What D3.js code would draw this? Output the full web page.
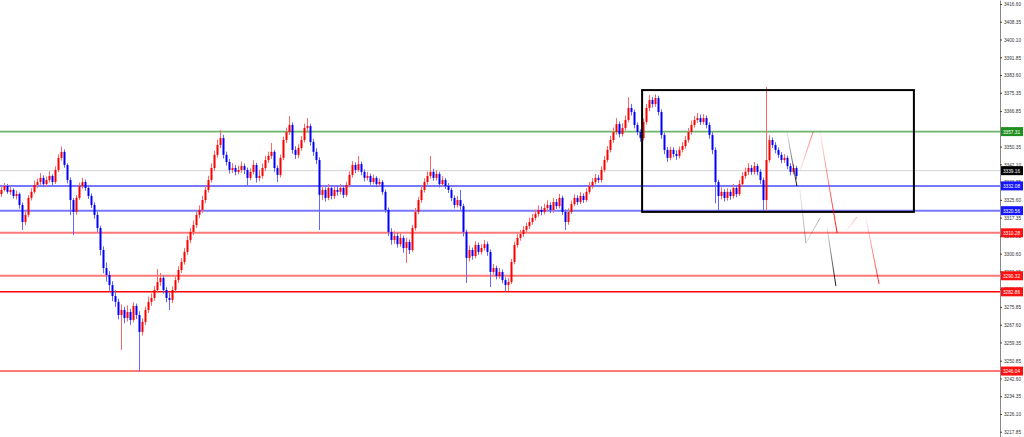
<!DOCTYPE html>
<html><head><meta charset="utf-8">
<script src="https://cdn.jsdelivr.net/npm/d3@7/dist/d3.min.js"></script>
<style>html,body{margin:0;padding:0;background:#fff;overflow:hidden}svg{display:block}</style>
</head><body>
<svg id="chart" width="1024" height="437"></svg>
<script>
// ---------------- DATA ----------------
const opens = [
3328.3,3330.2,3332.0,3329.3,3330.2,3327.4,3328.3,3323.2,3315.3,3318.6,
3326.5,3329.3,3332.5,3333.9,3335.8,3332.9,3334.8,3336.7,3333.9,3339.5,
3345.1,3347.9,3341.8,3334.8,3325.5,3320.0,3326.5,3332.0,3333.9,3331.1,
3327.4,3323.2,3318.6,3312.5,3302.3,3293.9,3290.7,3286.0,3280.9,3278.2,
3272.1,3274.4,3270.7,3273.5,3269.8,3276.3,3272.1,3264.2,3268.9,3274.4,
3278.2,3280.0,3283.7,3287.4,3289.3,3283.7,3280.0,3279.1,3283.7,3288.3,
3293.0,3296.7,3301.4,3306.9,3310.7,3313.9,3318.6,3320.9,3325.5,3330.2,
3334.8,3340.4,3346.5,3351.1,3354.3,3346.5,3343.2,3339.5,3340.4,3338.6,
3339.5,3341.3,3339.5,3335.8,3338.6,3341.8,3335.8,3336.7,3340.4,3344.1,
3346.0,3347.9,3340.4,3337.2,3345.1,3353.4,3357.1,3360.4,3348.8,3346.5,
3349.7,3353.4,3359.0,3359.9,3352.5,3347.9,3344.1,3327.9,3330.2,3326.5,
3331.1,3327.4,3330.2,3329.3,3331.1,3327.9,3332.5,3337.2,3341.8,3339.5,
3342.2,3338.6,3335.8,3336.7,3333.9,3335.8,3332.9,3333.9,3329.3,3320.9,
3310.7,3306.9,3308.8,3305.0,3307.9,3303.2,3306.0,3302.3,3312.5,3320.0,
3325.5,3330.2,3333.9,3336.7,3338.6,3335.8,3337.6,3332.9,3334.8,3332.0,
3330.2,3326.5,3323.2,3325.5,3322.7,3310.7,3298.6,3302.3,3299.5,3304.6,
3301.4,3303.2,3305.0,3301.4,3292.1,3293.9,3290.2,3292.1,3288.3,3286.0,
3287.4,3296.7,3304.6,3307.9,3309.7,3311.6,3313.4,3315.3,3317.2,3319.0,
3320.9,3320.0,3321.8,3323.2,3320.9,3324.6,3322.7,3326.5,3320.0,3315.3,
3320.0,3323.6,3326.5,3324.6,3327.4,3325.5,3329.3,3332.0,3333.9,3335.8,
3334.8,3339.5,3344.1,3348.8,3353.4,3357.1,3360.8,3356.2,3359.0,3362.7,
3368.3,3366.4,3360.4,3357.1,3354.3,3361.8,3368.3,3372.0,3370.1,3372.9,
3366.4,3355.7,3348.8,3345.1,3348.8,3346.9,3346.0,3348.8,3350.6,3353.4,
3357.1,3360.4,3362.7,3363.6,3361.8,3363.6,3360.4,3355.7,3348.8,3333.9,
3327.4,3329.3,3326.5,3329.3,3327.4,3331.1,3328.3,3332.9,3336.7,3338.6,
3340.4,3338.6,3341.3,3338.6,3334.8,3325.5,3344.1,3353.4,3351.1,3348.8,
3346.5,3344.1,3345.1,3341.3,3338.6,3340.4];
const highs = [
3331.5,3333.4,3333.0,3331.8,3331.0,3329.9,3329.0,3324.4,3320.5,3327.8,
3331.0,3334.6,3335.5,3338.0,3337.0,3336.4,3338.9,3337.5,3341.2,3346.8,
3350.4,3349.0,3342.6,3336.0,3326.4,3327.8,3333.6,3335.8,3335.0,3332.2,
3328.6,3324.5,3320.0,3313.6,3304.0,3296.5,3292.5,3287.8,3283.6,3279.6,
3277.0,3275.9,3276.6,3275.0,3278.0,3277.4,3273.8,3270.5,3276.0,3280.6,
3282.2,3285.5,3293.5,3291.6,3290.5,3285.0,3282.5,3285.4,3290.0,3294.8,
3298.6,3303.2,3308.8,3312.6,3316.0,3320.4,3323.0,3327.5,3332.0,3336.8,
3342.5,3348.4,3353.6,3358.0,3355.8,3348.0,3344.6,3342.6,3341.8,3341.5,
3343.4,3342.5,3340.6,3340.2,3344.0,3342.8,3339.6,3342.4,3346.0,3348.0,
3352.0,3348.8,3341.6,3346.6,3355.0,3359.2,3364.5,3361.6,3350.5,3351.4,
3355.2,3361.0,3363.6,3361.0,3354.0,3349.6,3345.4,3332.4,3331.4,3333.0,
3332.0,3331.8,3332.4,3333.0,3332.2,3334.0,3338.8,3343.6,3343.0,3346.0,
3343.4,3339.8,3338.6,3337.8,3337.4,3336.6,3335.6,3334.8,3330.4,3322.0,
3312.4,3311.0,3310.2,3310.0,3309.0,3308.0,3307.2,3314.0,3321.8,3327.0,
3332.0,3335.6,3338.8,3346.0,3340.0,3339.4,3338.6,3336.6,3335.8,3333.4,
3331.2,3327.6,3327.4,3330.2,3323.8,3311.8,3304.4,3303.4,3306.4,3305.8,
3305.0,3307.0,3306.2,3302.6,3295.8,3295.0,3294.0,3293.2,3289.6,3289.2,
3298.2,3306.2,3309.8,3311.6,3313.4,3315.0,3317.4,3319.0,3321.0,3323.0,
3322.6,3323.8,3325.4,3324.4,3326.4,3326.0,3328.4,3327.6,3321.2,3321.6,
3325.2,3328.2,3327.8,3329.2,3328.6,3331.0,3333.8,3335.8,3337.6,3337.2,
3341.2,3346.0,3350.6,3355.4,3359.2,3363.6,3362.0,3361.2,3364.8,3373.3,
3370.2,3367.6,3361.6,3358.4,3363.4,3370.2,3374.3,3373.4,3374.6,3374.0,
3367.6,3356.8,3350.2,3350.4,3350.0,3348.6,3350.4,3352.4,3355.2,3359.0,
3362.4,3364.6,3366.0,3365.2,3365.4,3364.8,3361.6,3357.0,3350.0,3335.0,
3331.4,3330.6,3331.0,3330.4,3333.0,3332.4,3334.8,3338.4,3340.6,3342.6,
3341.8,3343.2,3342.4,3339.8,3336.0,3378.0,3355.6,3354.6,3352.4,3350.0,
3347.8,3346.8,3346.2,3342.6,3342.2,3341.4];
const lows = [
3327.0,3329.5,3328.4,3328.0,3326.2,3325.8,3321.5,3311.6,3313.8,3317.5,
3325.3,3328.5,3331.0,3332.6,3331.5,3331.8,3333.6,3332.4,3333.0,3338.4,
3343.8,3340.5,3333.2,3318.5,3309.3,3318.6,3325.6,3330.8,3329.8,3326.0,
3321.8,3316.8,3310.6,3299.8,3291.5,3287.6,3283.4,3278.5,3275.8,3270.0,
3255.8,3268.2,3269.0,3267.5,3268.6,3270.2,3246.0,3262.5,3267.4,3273.0,
3276.4,3278.7,3282.4,3285.6,3282.0,3278.0,3274.4,3277.6,3282.5,3287.0,
3291.6,3295.5,3300.0,3305.4,3309.2,3312.5,3317.0,3319.6,3324.0,3329.0,
3333.6,3339.0,3345.2,3349.6,3344.8,3341.6,3337.8,3338.0,3337.0,3337.4,
3338.2,3337.6,3332.5,3334.6,3337.4,3333.6,3334.2,3335.4,3339.0,3342.8,
3344.6,3338.6,3333.9,3336.0,3344.0,3352.0,3355.8,3347.0,3344.6,3345.0,
3348.4,3352.2,3356.8,3350.8,3346.0,3342.2,3311.6,3325.6,3324.8,3325.4,
3325.8,3326.0,3327.6,3328.0,3326.4,3327.0,3331.4,3336.0,3338.0,3338.6,
3337.0,3334.2,3334.6,3332.6,3332.8,3331.6,3331.8,3328.0,3319.6,3308.8,
3304.8,3305.2,3303.4,3303.8,3301.0,3296.2,3300.4,3301.4,3311.4,3318.8,
3324.2,3329.0,3332.6,3335.4,3334.4,3334.6,3331.4,3331.8,3330.6,3328.8,
3325.0,3321.6,3322.0,3321.0,3308.6,3287.0,3297.0,3297.8,3298.4,3300.0,
3300.2,3302.0,3299.6,3285.1,3290.8,3288.6,3289.0,3286.8,3282.9,3283.2,
3286.4,3295.6,3303.4,3306.6,3308.4,3310.2,3312.0,3314.0,3316.0,3317.8,
3318.4,3318.8,3320.4,3319.4,3319.6,3321.4,3321.6,3318.6,3311.6,3314.0,
3319.0,3322.6,3323.2,3323.6,3324.2,3324.6,3328.2,3330.8,3332.8,3333.4,
3333.6,3338.4,3343.0,3347.6,3352.0,3356.0,3354.6,3355.0,3357.8,3361.6,
3364.8,3358.8,3355.6,3352.6,3353.2,3360.6,3366.8,3368.4,3368.8,3364.8,
3354.0,3346.8,3343.2,3344.0,3345.4,3344.2,3344.8,3347.6,3349.4,3352.2,
3356.0,3359.2,3361.4,3360.4,3360.6,3358.8,3354.0,3346.8,3324.0,3320.2,
3325.8,3324.8,3325.2,3325.6,3326.2,3326.8,3327.4,3331.8,3335.4,3337.2,
3337.2,3337.4,3337.0,3333.0,3320.5,3320.0,3343.0,3349.6,3347.2,3345.0,
3342.6,3342.8,3339.8,3337.0,3337.4,3335.2];
const closes = [
3330.2,3332.0,3329.3,3330.2,3327.4,3328.3,3323.2,3315.3,3318.6,3326.5,
3329.3,3332.5,3333.9,3335.8,3332.9,3334.8,3336.7,3333.9,3339.5,3345.1,
3347.9,3341.8,3334.8,3325.5,3320.0,3326.5,3332.0,3333.9,3331.1,3327.4,
3323.2,3318.6,3312.5,3302.3,3293.9,3290.7,3286.0,3280.9,3278.2,3272.1,
3274.4,3270.7,3273.5,3269.8,3276.3,3272.1,3264.2,3268.9,3274.4,3278.2,
3280.0,3283.7,3287.4,3289.3,3283.7,3280.0,3279.1,3283.7,3288.3,3293.0,
3296.7,3301.4,3306.9,3310.7,3313.9,3318.6,3320.9,3325.5,3330.2,3334.8,
3340.4,3346.5,3351.1,3354.3,3346.5,3343.2,3339.5,3340.4,3338.6,3339.5,
3341.3,3339.5,3335.8,3338.6,3341.8,3335.8,3336.7,3340.4,3344.1,3346.0,
3347.9,3340.4,3337.2,3345.1,3353.4,3357.1,3360.4,3348.8,3346.5,3349.7,
3353.4,3359.0,3359.9,3352.5,3347.9,3344.1,3327.9,3330.2,3326.5,3331.1,
3327.4,3330.2,3329.3,3331.1,3327.9,3332.5,3337.2,3341.8,3339.5,3342.2,
3338.6,3335.8,3336.7,3333.9,3335.8,3332.9,3333.9,3329.3,3320.9,3310.7,
3306.9,3308.8,3305.0,3307.9,3303.2,3306.0,3302.3,3312.5,3320.0,3325.5,
3330.2,3333.9,3336.7,3338.6,3335.8,3337.6,3332.9,3334.8,3332.0,3330.2,
3326.5,3323.2,3325.5,3322.7,3310.7,3298.6,3302.3,3299.5,3304.6,3301.4,
3303.2,3305.0,3301.4,3292.1,3293.9,3290.2,3292.1,3288.3,3286.0,3287.4,
3296.7,3304.6,3307.9,3309.7,3311.6,3313.4,3315.3,3317.2,3319.0,3320.9,
3320.0,3321.8,3323.2,3320.9,3324.6,3322.7,3326.5,3320.0,3315.3,3320.0,
3323.6,3326.5,3324.6,3327.4,3325.5,3329.3,3332.0,3333.9,3335.8,3334.8,
3339.5,3344.1,3348.8,3353.4,3357.1,3360.8,3356.2,3359.0,3362.7,3368.3,
3366.4,3360.4,3357.1,3354.3,3361.8,3368.3,3372.0,3370.1,3372.9,3366.4,
3355.7,3348.8,3345.1,3348.8,3346.9,3346.0,3348.8,3350.6,3353.4,3357.1,
3360.4,3362.7,3363.6,3361.8,3363.6,3360.4,3355.7,3348.8,3333.9,3327.4,
3329.3,3326.5,3329.3,3327.4,3331.1,3328.3,3332.9,3336.7,3338.6,3340.4,
3338.6,3341.3,3338.6,3334.8,3325.5,3344.1,3353.4,3351.1,3348.8,3346.5,
3344.1,3345.1,3341.3,3338.6,3340.4,3336.7];

// price axis tick labels (the one hidden under the green label is omitted)
const tickLabels = ["3416.60","3408.35","3400.10","3391.85","3383.60","3375.35","3366.85",
  "3350.35","3342.10","3333.85","3325.60","3317.35","3308.85","3300.60","3292.35","3284.10",
  "3275.85","3267.60","3259.35","3250.85","3242.60","3234.35","3226.10","3217.85"];

// horizontal levels
const levelValues = [3357.31, 3339.16, 3332.08, 3320.56, 3310.28, 3290.32, 3282.86, 3246.04];
const levelKinds  = ["green", "bid", "blue", "blue", "red", "red", "redSolid", "red"];

// rectangle (bar index range, price range)
const boxBars = [213.7, 304.3];
const boxPrices = [3376.6, 3320.0];

// projection segments: [barIndex, price] pairs
const blackProjection = [
  [[262.0, 3357.1], [265.3, 3332.0]],
  [[266.3, 3330.2], [268.3, 3305.5]],
  [[268.3, 3305.5], [273.0, 3317.1]],
  [[275.3, 3313.0], [278.3, 3285.6]]
];
const redProjection = [
  [[266.3, 3339.0], [270.7, 3357.1]],
  [[273.0, 3357.1], [278.7, 3310.2]],
  [[282.0, 3311.6], [285.3, 3317.6]],
  [[288.3, 3317.1], [292.7, 3286.5]]
];

// ---------------- DRAW ----------------
const W = 1024, H = 437, axisX = 1000;
const svg = d3.select("#chart");
const x = d3.scaleLinear().domain([0, closes.length - 1]).range([1, 796]);
const y = d3.scaleLinear().domain([3215.4, 3418.46]).range([H, 0]);

const styles = {
  green:    {stroke: "#6cb36c", w: 1.6, bg: "#1f8f1f"},
  bid:      {stroke: "#d4d4d4", w: 1,   bg: "#000000"},
  blue:     {stroke: "#7878ff", w: 2,   bg: "#1515ff"},
  red:      {stroke: "#ff7878", w: 2,   bg: "#ff1010"},
  redSolid: {stroke: "#ff0000", w: 1.4, bg: "#ff1010"}
};

// levels
const gl = svg.append("g");
levelValues.forEach((v, i) => {
  const s = styles[levelKinds[i]];
  gl.append("line").attr("x1", 0).attr("x2", axisX).attr("y1", y(v)).attr("y2", y(v))
    .attr("stroke", s.stroke).attr("stroke-width", s.w);
});

// candles
const data = closes.map((c, i) => ({i, o: opens[i], h: highs[i], l: lows[i], c}));
const gc = svg.append("g");
gc.selectAll(".wick").data(data).join("line")
  .attr("x1", d => x(d.i) + 0.5).attr("x2", d => x(d.i) + 0.5)
  .attr("y1", d => y(d.h)).attr("y2", d => y(d.l))
  .attr("stroke", d => d.c >= d.o ? "#ff6666" : "#6666ff").attr("stroke-width", 1);
gc.selectAll(".body").data(data).join("rect")
  .attr("x", d => x(d.i) - 0.5).attr("width", 2)
  .attr("y", d => y(Math.max(d.o, d.c)))
  .attr("height", d => Math.max(1, Math.abs(y(d.o) - y(d.c))))
  .attr("fill", d => d.c >= d.o ? "#ff0000" : "#0000ff");

// box
svg.append("rect")
  .attr("x", x(boxBars[0])).attr("y", y(boxPrices[0]))
  .attr("width", x(boxBars[1]) - x(boxBars[0]))
  .attr("height", y(boxPrices[1]) - y(boxPrices[0]))
  .attr("fill", "none").attr("stroke", "#000").attr("stroke-width", 2);

// projections with fading gradients
const defs = svg.append("defs");
function drawSeg(seg, color, k, idx, endOp) {
  const [a, b] = seg;
  const id = `g_${k}_${idx}`;
  const grad = defs.append("linearGradient").attr("id", id)
    .attr("gradientUnits", "userSpaceOnUse")
    .attr("x1", x(a[0])).attr("y1", y(a[1])).attr("x2", x(b[0])).attr("y2", y(b[1]));
  grad.append("stop").attr("offset", 0).attr("stop-color", color).attr("stop-opacity", 0.08);
  grad.append("stop").attr("offset", 1).attr("stop-color", color).attr("stop-opacity", endOp);
  svg.append("line").attr("x1", x(a[0])).attr("y1", y(a[1])).attr("x2", x(b[0])).attr("y2", y(b[1]))
    .attr("stroke", `url(#${id})`).attr("stroke-width", 1);
}
const blackEnd = [0.95, 0.35, 0.35, 0.95];
const redEnd = [0.55, 0.95, 0.35, 0.85];
blackProjection.forEach((s, i) => drawSeg(s, "#000000", "k", i, blackEnd[i]));
redProjection.forEach((s, i) => drawSeg(s, "#ff0000", "r", i, redEnd[i]));

// price axis
const tickVals = tickLabels.map(Number);
const axis = d3.axisRight(y).tickValues(tickVals).tickFormat((d, i) => tickLabels[i])
  .tickSize(2).tickPadding(2).tickSizeOuter(0);
const ga = svg.append("g").attr("transform", `translate(${axisX},0)`).call(axis);
ga.select(".domain").attr("stroke", "#888");
ga.selectAll(".tick line").attr("stroke", "#444");
ga.selectAll("text").attr("font-family", "'Liberation Sans', sans-serif").attr("font-size", 5.5)
  .attr("fill", "#333").attr("textLength", 17).attr("lengthAdjust", "spacingAndGlyphs");

// level labels
levelValues.forEach((v, i) => {
  const s = styles[levelKinds[i]];
  const yy = y(v);
  svg.append("rect").attr("x", axisX + 1).attr("y", yy - 4.5).attr("width", 22).attr("height", 9).attr("fill", s.bg);
  svg.append("text").attr("x", axisX + 3).attr("y", yy + 2)
    .attr("font-family", "'Liberation Sans', sans-serif").attr("font-size", 5.5).attr("fill", "#fff")
    .attr("textLength", 17).attr("lengthAdjust", "spacingAndGlyphs")
    .text(v.toFixed(2));
});
</script>
</body></html>
